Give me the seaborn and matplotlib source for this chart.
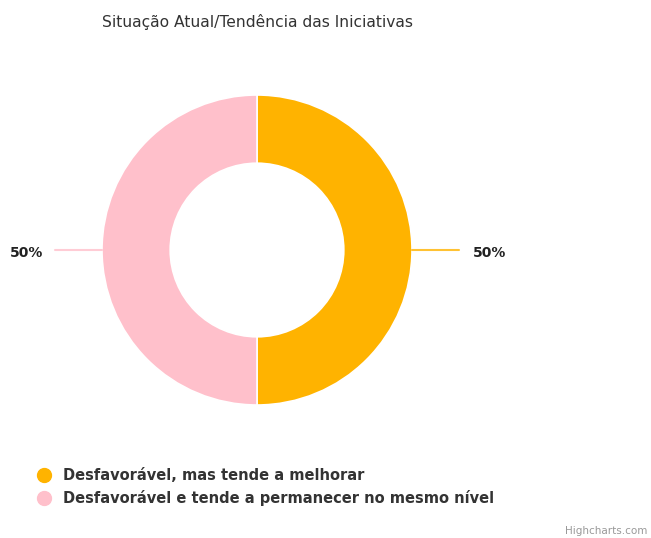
import numpy as np
import pandas as pd
import matplotlib
matplotlib.use("Agg")
import matplotlib.pyplot as plt
from matplotlib.lines import Line2D
import seaborn as sns

# chart data
categories = ["Desfavorável, mas tende a melhorar",
              "Desfavorável e tende a permanecer no mesmo nível"]
values = [50, 50]
colors = ["#FFB300", "#FFC0CB"]
title_string = "Situação Atual/Tendência das Iniciativas"

df = pd.DataFrame({"category": categories, "value": values, "color": colors})

sns.set_theme(style="white")
plt.rcParams["font.family"] = ["DejaVu Sans"]

W, H = 651, 538
fig = plt.figure(figsize=(W / 100, H / 100), dpi=100)
ax = fig.add_axes([0, 0, 1, 1])

cx, cy, r = 257, H - 250, 155
wedges, _ = ax.pie(df["value"], colors=df["color"], startangle=90, counterclock=False,
                   center=(cx, cy), radius=r, frame=True,
                   wedgeprops=dict(width=r * 0.44, edgecolor="white", linewidth=1.2))
ax.set_xlim(0, W)
ax.set_ylim(0, H)
ax.set_axis_off()

# data labels with connectors
total = df["value"].sum()
for w, v, c in zip(wedges, df["value"], df["color"]):
    ang = np.deg2rad((w.theta1 + w.theta2) / 2)
    dx, dy = np.cos(ang), np.sin(ang)
    x0, y0 = cx + r * dx, cy + r * dy
    x1 = x0 + 47 * np.sign(dx)
    ax.plot([x0, x1], [y0, y0], color=c, lw=1.5, alpha=0.8)
    ax.text(x1 + (14 if dx > 0 else 12) * np.sign(dx), y0 - 3, f"{v / total * 100:.0f}%",
            ha="left" if dx > 0 else "right", va="center",
            fontsize=10, fontweight="bold", color="#222222")

ax.text(cx, H - 22, title_string, ha="center", va="center", fontsize=11.2, color="#333333")

handles = [Line2D([0], [0], marker="o", linestyle="", markersize=10,
                  markerfacecolor=c, markeredgecolor=c) for c in df["color"]]
leg = fig.legend(handles, df["category"], loc="upper left",
                 bbox_to_anchor=(22 / W, 1 - 461 / H), frameon=False,
                 handletextpad=0.3, labelspacing=0.45, borderpad=0,
                 prop=dict(size=10.5, weight="bold"))
for t in leg.get_texts():
    t.set_color("#333333")

ax.text(W - 4, H - 531, "Highcharts.com", ha="right", va="center", fontsize=7.5, color="#999999")

fig.savefig("out.png", dpi=100)
